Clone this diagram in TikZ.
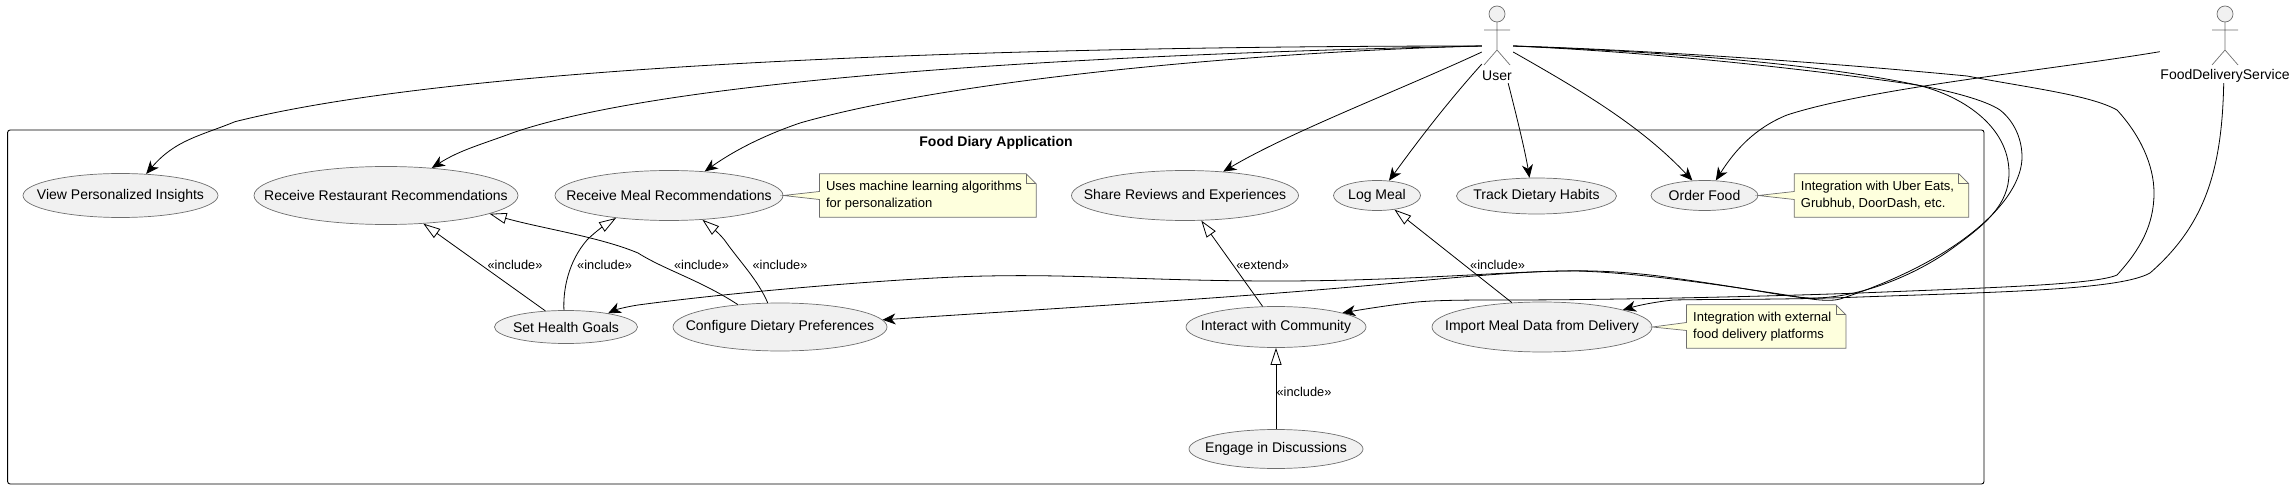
\documentclass[tikz,border=0pt]{standalone}
\usepackage{fontspec}
\setmainfont{Liberation Sans}
\usetikzlibrary{arrows.meta,shapes.geometric}

\definecolor{ucfill}{HTML}{F1F1F1}
\definecolor{notefill}{HTML}{FEFFDD}
\definecolor{thinline}{HTML}{6E6E6E}

\newcommand{\ucl}[1]{\makebox[0pt]{#1}}
\newcommand{\notebox}[6]{%
    \node[noteframe,minimum width=#3pt,minimum height=#4pt] (#1) at (#2) {};
    \draw[noteline] (#1.north west) -- ([xshift=-10pt]#1.north east) -- ([yshift=-10pt]#1.north east) -- (#1.south east) -- (#1.south west) -- ([yshift=-4pt]#1.west) -- (#5) -- ([yshift=4pt]#1.west) -- cycle;
    \draw[noteline,fill=none] ([xshift=-10pt]#1.north east) |- ([yshift=-10pt]#1.north east);
    \node[notetext] (#1txt) at ([xshift=6.5pt]#1.west) {#6};
}

\tikzset{
    txt/.style={font=\fontsize{14}{16.8}\selectfont},
    usecase/.style={ellipse,draw=thinline,fill=ucfill,line width=.7pt,inner sep=0pt,txt},
    noteframe/.style={rectangle,inner sep=0pt},
    noteline/.style={draw=thinline,fill=notefill,line width=.7pt},
    notetext/.style={anchor=west,align=left,inner sep=0pt,font=\fontsize{13}{16.8}\selectfont},
    stereo/.style={inner sep=0pt,font=\fontsize{12.8}{15}\selectfont},
    assoc/.style={line width=.8pt,-{Stealth[length=13pt,width=11pt,inset=4pt]}},
    incl/.style={line width=.8pt,-{Triangle[open,fill=white,length=17pt,width=11pt]}},
    hitbox/.style={rectangle,inner sep=0pt,minimum height=74pt},
    pics/stickman/.style={code={
        \draw[thinline,fill=ucfill,line width=.7pt] (0,-32) ellipse (8pt and 8pt);
        \draw[thinline,line width=.7pt] (0,-24) -- (0,4) (-13,-16) -- (13,-16) (-13,19) -- (0,4) -- (13,19);
    }}
}

\begin{document}
\begin{tikzpicture}[x=1pt,y=-1pt]
    \useasboundingbox (0,0) rectangle (2294,489);

    \draw[line width=.9pt,rounded corners=2.5pt] (7.6,130) rectangle (1984,484);
    \node[inner sep=0pt,font=\fontsize{14}{16.8}\selectfont\bfseries] (title) at (996,142.7) {Food Diary Application};

    \pic at (1497,46) {stickman};
    \node[hitbox,minimum width=31pt] (user) at (1497.5,46) {};
    \node[inner sep=0pt,txt] (userlab) at (1497,75.7) {User};
    \pic at (2225,46) {stickman};
    \node[hitbox,minimum width=130pt] (fds) at (2225,46) {};
    \node[inner sep=0pt,txt] (fdslab) at (2225,75.7) {FoodDeliveryService};

    \node[usecase,minimum width=195pt,minimum height=44pt] (view) at (120.5,195.5) {\ucl{View Personalized Insights}};
    \node[usecase,minimum width=264pt,minimum height=58pt] (restaurant) at (386,195.5) {\ucl{Receive Restaurant Recommendations}};
    \node[usecase,minimum width=228pt,minimum height=50pt] (meal) at (669,195.5) {\ucl{Receive Meal Recommendations}};
    \node[usecase,minimum width=227pt,minimum height=50pt] (share) at (1185,195.5) {\ucl{Share Reviews and Experiences}};
    \node[usecase,minimum width=87pt,minimum height=30pt] (logmeal) at (1377,195.5) {\ucl{Log Meal}};
    \node[usecase,minimum width=160pt,minimum height=36pt] (track) at (1536.5,196) {\ucl{Track Dietary Habits}};
    \node[usecase,minimum width=107pt,minimum height=30pt] (order) at (1704.5,195.5) {\ucl{Order Food}};
    \node[usecase,minimum width=143pt,minimum height=33pt] (goals) at (566,327) {\ucl{Set Health Goals}};
    \node[usecase,minimum width=214pt,minimum height=48pt] (config) at (780,327) {\ucl{Configure Dietary Preferences}};
    \node[usecase,minimum width=180pt,minimum height=41pt] (community) at (1276,327) {\ucl{Interact with Community}};
    \node[usecase,minimum width=220pt,minimum height=50pt] (import) at (1542,327) {\ucl{Import Meal Data from Delivery}};
    \node[usecase,minimum width=174pt,minimum height=39pt] (discuss) at (1276,449) {\ucl{Engage in Discussions}};

    \notebox{mealnote}{927.8,195.5}{216.4}{43}{meal.east}{Uses machine learning algorithms\\for personalization}
    \notebox{ordernote}{1881.5,195.5}{174.2}{43}{order.east}{Integration with Uber Eats,\\Grubhub, DoorDash, etc.}
    \notebox{importnote}{1766.2,326.5}{159}{43}{import.east}{Integration with external\\food delivery platforms}

    \draw[assoc] (user.west) .. controls (1150,46) and (500,55) .. (235,121.7) .. controls (200,136) and (175,140) .. (view.40);
    \draw[assoc] (user.west) .. controls (1200,52) and (700,70) .. (515,132) .. controls (480,145) and (460,150) .. (restaurant.31);
    \draw[assoc] (user.west) .. controls (1250,52) and (950,80) .. (800,123) .. controls (765,135) and (735,150) .. (meal.34);
    \draw[assoc] (user.201) .. controls (1400,90) and (1290,132) .. (share.32);
    \draw[assoc] (user.229) .. controls (1445,105) and (1415,145) .. (logmeal.51);
    \draw[assoc] (user.286) .. controls (1515,110) and (1525,150) .. (track.111);
    \draw[assoc] (user.339) .. controls (1580,90) and (1640,125) .. (order.129);
    \draw[assoc] (fds.185) .. controls (2050,70) and (1870,88) .. (1787,115) .. controls (1755,128) and (1735,150) .. (order.53);

    \draw[assoc] (user.east) .. controls (1650,52) and (1800,68) .. (1917,85) .. controls (1950,91) and (1985,100) .. (2000,110) .. controls (2015,122) and (2022,140) .. (2022,157) .. controls (2022,200) and (1960,260) .. (1840,299) .. controls (1825,303) and (1800,297) .. (1773,293) .. controls (1720,285) and (1620,270) .. (1563,271) .. controls (1500,272) and (1400,283) .. (1340,288) .. controls (1200,300) and (1000,312) .. (config.4);
    \draw[assoc] (user.east) .. controls (1620,50) and (1800,60) .. (1917,85) .. controls (1960,95) and (2009,125) .. (2009,173) .. controls (2009,205) and (1985,225) .. (1950,250) .. controls (1915,275) and (1860,298) .. (1813,298) .. controls (1790,298) and (1760,290) .. (1673,278) .. controls (1640,273) and (1600,270) .. (1563,271) .. controls (1500,272) and (1400,281) .. (1278,281) .. controls (1150,281) and (1080,274) .. (987,276) .. controls (920,277) and (750,290) .. (638,305) .. controls (625,307) and (615,310) .. (goals.18);
    \draw[assoc] (user.east) .. controls (1620,49) and (1800,60) .. (1967,76) .. controls (2030,88) and (2090,95) .. (2117,110) .. controls (2140,135) and (2154,165) .. (2154,193) .. controls (2154,225) and (2140,250) .. (2117,275) .. controls (2095,285) and (1980,288) .. (1860,293) .. controls (1750,297) and (1600,300) .. (1507,300) .. controls (1470,300) and (1440,300) .. (1417,302) .. controls (1390,305) and (1365,309) .. (community.12);
    \draw[assoc] (fds.268) .. controls (2222,170) and (2205,225) .. (2150,273) .. controls (2120,290) and (2000,292) .. (1860,297) .. controls (1780,300) and (1720,299) .. (1673,300) .. controls (1655,302) and (1640,305) .. (import.12);

    \draw[incl] (goals.142) -- (restaurant.323);
    \draw[incl] (goals.97) .. controls (563,290) and (568,262) .. (587,240) .. controls (595,232) and (605,225) .. (meal.203);
    \draw[incl] (config.152) .. controls (700,280) and (665,270) .. (638,253) .. controls (600,237) and (540,228) .. (restaurant.350);
    \draw[incl] (config.117) .. controls (758,280) and (740,262) .. (724.5,240) .. controls (718,232) and (710,226) .. (meal.324);
    \draw[incl] (community.123) -- (share.303);
    \draw[incl] (import.141) -- (logmeal.321);
    \draw[incl] (discuss.north) -- (community.south);

    \node[stereo] (incla) at (515,265) {«include»};
    \node[stereo] (inclb) at (604.6,265) {«include»};
    \node[stereo] (inclc) at (701.5,265) {«include»};
    \node[stereo] (incld) at (780,265) {«include»};
    \node[stereo] (extenda) at (1262.7,265) {«extend»};
    \node[stereo] (incle) at (1497.6,265) {«include»};
    \node[stereo] (inclf) at (1304,391.7) {«include»};
\end{tikzpicture}
\end{document}
